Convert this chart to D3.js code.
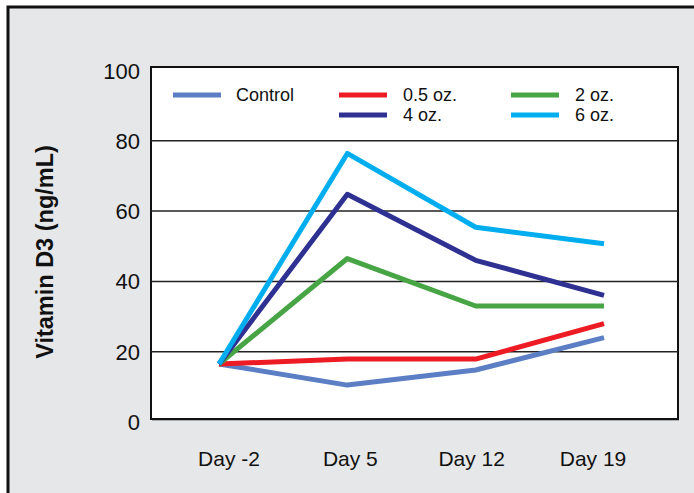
<!DOCTYPE html>
<html>
<head>
<meta charset="utf-8">
<script src="https://cdn.jsdelivr.net/npm/d3@7"></script>
<style>
  body { margin: 0; background: #fff; }
  text { font-family: "Liberation Sans", Arial, sans-serif; fill: #111; }
</style>
</head>
<body>
<script>
const days = ["Day -2", "Day 5", "Day 12", "Day 19"];
const yTicks = [0, 20, 40, 60, 80, 100];

const control = [16.5, 10.5, 14.8, 24];
const oz05 = [16.5, 17.9, 17.9, 28];
const oz2 = [16.5, 46.5, 33, 33];
const oz4 = [16.5, 64.8, 46, 36];
const oz6 = [16.5, 76.4, 55.4, 50.7];

const series = [
  { name: "Control", values: control, color: "#5b7ec4" },
  { name: "0.5 oz.", values: oz05, color: "#ed1c24" },
  { name: "2 oz.", values: oz2, color: "#48a546" },
  { name: "4 oz.", values: oz4, color: "#2e3192" },
  { name: "6 oz.", values: oz6, color: "#00aeef" }
];

const w = 694, h = 493;
const box = { left: 151, right: 678, top: 67, bottom: 419 };

const svg = d3.select("body").append("svg")
  .attr("width", w)
  .attr("height", h);

// gray panel with dark outer frame (cut off at right/bottom)
svg.append("rect")
  .attr("x", 8).attr("y", 7)
  .attr("width", w + 20).attr("height", h + 20)
  .attr("fill", "#e6e7e8")
  .attr("stroke", "#111")
  .attr("stroke-width", 3);

const x = d3.scalePoint()
  .domain(days)
  .range([219, 604]);

// labels sit a bit off the data points in the original
const xLabel = x.copy().range([229, 593]);

const y = d3.scaleLinear()
  .domain([0, 100])
  .range([422, 70.5]);

// plot area
svg.append("rect")
  .attr("x", box.left + 1).attr("y", box.top + 1.5)
  .attr("width", box.right - box.left).attr("height", box.bottom - box.top)
  .attr("fill", "#777");
svg.append("rect")
  .attr("x", box.left).attr("y", box.top)
  .attr("width", box.right - box.left).attr("height", box.bottom - box.top)
  .attr("fill", "#fff")
  .attr("stroke", "#111")
  .attr("stroke-width", 2);

// gridlines
svg.selectAll(".grid")
  .data(yTicks.filter(d => d > 0 && d < 100))
  .enter().append("line")
  .attr("class", "grid")
  .attr("x1", box.left).attr("x2", box.right)
  .attr("y1", d => y(d)).attr("y2", d => y(d))
  .attr("stroke", "#222")
  .attr("stroke-width", 1.5);

// y tick labels
svg.selectAll(".ytick")
  .data(yTicks)
  .enter().append("text")
  .attr("class", "ytick")
  .attr("x", 140)
  .attr("y", d => y(d) + 8)
  .attr("text-anchor", "end")
  .style("font-size", "22px")
  .text(d => d);

// x labels
svg.selectAll(".xtick")
  .data(days)
  .enter().append("text")
  .attr("class", "xtick")
  .attr("x", d => xLabel(d))
  .attr("y", 466)
  .attr("text-anchor", "middle")
  .style("font-size", "21px")
  .text(d => d);

// y axis title
svg.append("text")
  .attr("transform", "translate(53,252) rotate(-90)")
  .attr("text-anchor", "middle")
  .style("font-size", "23.5px")
  .style("font-weight", "bold")
  .text("Vitamin D3 (ng/mL)");

// lines
const line = d3.line()
  .x((d, i) => x(days[i]))
  .y(d => y(d));

svg.selectAll(".series")
  .data(series)
  .enter().append("path")
  .attr("class", "series")
  .attr("d", d => line(d.values))
  .attr("fill", "none")
  .attr("stroke", d => d.color)
  .attr("stroke-width", 5)
  .attr("stroke-linejoin", "round");

// legend
const legendPos = [
  { lx: 173, ly: 95 },
  { lx: 339, ly: 95 },
  { lx: 511, ly: 95 },
  { lx: 339, ly: 115 },
  { lx: 511, ly: 115 }
];

const legend = svg.selectAll(".legend")
  .data(series)
  .enter().append("g")
  .attr("class", "legend")
  .attr("transform", (d, i) => "translate(" + legendPos[i].lx + "," + legendPos[i].ly + ")");

legend.append("line")
  .attr("x1", 0).attr("x2", 48)
  .attr("stroke", d => d.color)
  .attr("stroke-width", 5);

legend.append("text")
  .attr("x", (d, i) => i == 0 ? 63 : 64)
  .attr("y", 6)
  .style("font-size", "18px")
  .text(d => d.name);
</script>
</body>
</html>
